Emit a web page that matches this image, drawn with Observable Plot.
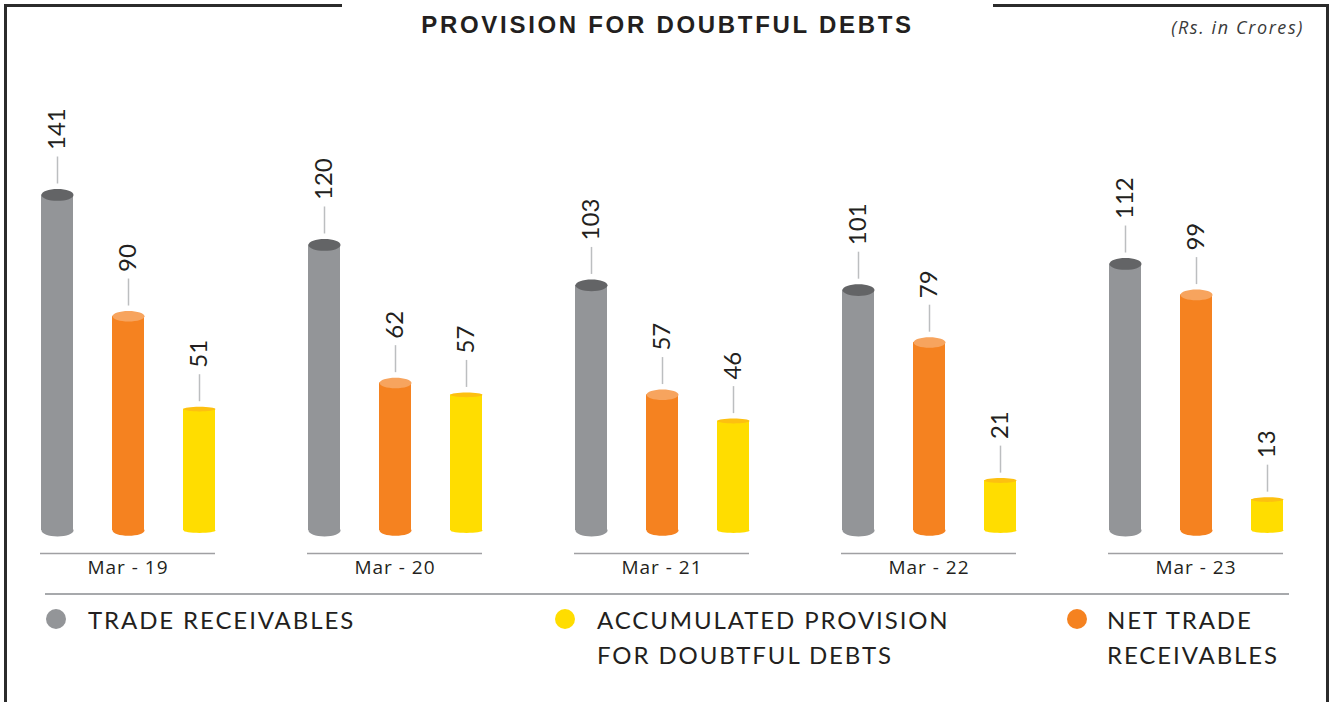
<!DOCTYPE html>
<html>
<head>
<meta charset="utf-8">
<script src="https://cdn.jsdelivr.net/npm/d3@7"></script>
<script src="https://cdn.jsdelivr.net/npm/@observablehq/plot@0.6"></script>
<style>
  html, body { margin: 0; padding: 0; background: #fff; }
  #wrap { position: relative; width: 1330px; height: 702px; overflow: hidden; background: #fff; }
  #chart { position: absolute; left: 0; top: 0; }
  #chart g[aria-label="fx-axis tick label"] text { letter-spacing: 1px; }
  .line { position: absolute; background: #2b2b2b; }
  #title { position: absolute; left: 342px; width: 651px; top: 11px; text-align: center;
           font-family: "Liberation Sans", Arial, sans-serif; font-weight: bold; font-size: 24px;
           letter-spacing: 2.7px; color: #231f20; }
  #unit { position: absolute; right: 26px; top: 15px; font-family: "Open Sans", sans-serif;
          font-style: italic; font-size: 18px; color: #3a3a3a; letter-spacing: 1.6px; }
  #sep { position: absolute; left: 45px; top: 593px; width: 1244px; height: 2px; background: #a7a9ac; }
  .leg { position: absolute; font-family: Lato, "Open Sans", sans-serif; font-size: 24px; line-height: 35px;
         letter-spacing: 1.9px; color: #231f20; }
  .dot { position: absolute; width: 20px; height: 20px; border-radius: 50%; }
</style>
</head>
<body>
<div id="wrap">
  <div id="chart"></div>
  <div class="line" style="left:4px;top:4px;width:338px;height:3px;"></div>
  <div class="line" style="left:993px;top:4px;width:336px;height:3px;"></div>
  <div class="line" style="left:4px;top:4px;width:3px;height:698px;"></div>
  <div class="line" style="left:1326px;top:4px;width:3px;height:698px;"></div>
  <div id="title">PROVISION FOR DOUBTFUL DEBTS</div>
  <div id="unit">(Rs. in Crores)</div>
  <div id="sep"></div>
  <div id="legend"></div>
</div>
<script>
// ---- data ----
const years = ["Mar - 19", "Mar - 20", "Mar - 21", "Mar - 22", "Mar - 23"];
const seriesNames = ["TRADE RECEIVABLES", "NET TRADE RECEIVABLES", "ACCUMULATED PROVISION FOR DOUBTFUL DEBTS"];
const tradeReceivables = [141, 120, 103, 101, 112];
const netTradeReceivables = [90, 62, 57, 79, 99];
const accumulatedProvision = [51, 57, 46, 21, 13];
const legendOrder = ["TRADE RECEIVABLES", "ACCUMULATED PROVISION FOR DOUBTFUL DEBTS", "NET TRADE RECEIVABLES"];
const legendLines = {
  "TRADE RECEIVABLES": ["TRADE RECEIVABLES"],
  "ACCUMULATED PROVISION FOR DOUBTFUL DEBTS": ["ACCUMULATED PROVISION", "FOR DOUBTFUL DEBTS"],
  "NET TRADE RECEIVABLES": ["NET TRADE", "RECEIVABLES"]
};

// ---- styles ----
const bodyColor = {
  "TRADE RECEIVABLES": "#939598",
  "NET TRADE RECEIVABLES": "#f58220",
  "ACCUMULATED PROVISION FOR DOUBTFUL DEBTS": "#ffdd00"
};
const topColor = {
  "TRADE RECEIVABLES": "#636466",
  "NET TRADE RECEIVABLES": "#f7a45e",
  "ACCUMULATED PROVISION FOR DOUBTFUL DEBTS": "#fdc010"
};
const ellipseRatio = {
  "TRADE RECEIVABLES": 0.37,
  "NET TRADE RECEIVABLES": 0.33,
  "ACCUMULATED PROVISION FOR DOUBTFUL DEBTS": 0.15
};

const rows = [];
years.forEach((y, i) => {
  rows.push({year: y, series: seriesNames[0], value: tradeReceivables[i]});
  rows.push({year: y, series: seriesNames[1], value: netTradeReceivables[i]});
  rows.push({year: y, series: seriesNames[2], value: accumulatedProvision[i]});
});

function ellipseSymbol(ratio) {
  return {
    draw(ctx, size) {
      const rx = Math.sqrt(size / Math.PI), ry = rx * ratio, k = 0.5523;
      ctx.moveTo(rx, 0);
      ctx.bezierCurveTo(rx, ry * k, rx * k, ry, 0, ry);
      ctx.bezierCurveTo(-rx * k, ry, -rx, ry * k, -rx, 0);
      ctx.bezierCurveTo(-rx, -ry * k, -rx * k, -ry, 0, -ry);
      ctx.bezierCurveTo(rx * k, -ry, rx, -ry * k, rx, 0);
      ctx.closePath();
    }
  };
}

const W = 1330, H = 600, mTop = 173, mBottom = 70, yMax = 150;
const pxPerUnit = (H - mTop - mBottom) / yMax;
const R = 16;
const lineLen = 27, gap = 5, textGap = 7;

const marks = [];
for (const s of seriesNames) {
  const d = rows.filter(r => r.series === s);
  const ry = R * ellipseRatio[s];
  marks.push(
    Plot.dot(d, {fx: "year", x: "series", y: 0, r: R, symbol: ellipseSymbol(ellipseRatio[s]), fill: bodyColor[s], stroke: null}),
    Plot.barY(d, {fx: "year", x: "series", y: "value", fill: bodyColor[s]}),
    Plot.dot(d, {fx: "year", x: "series", y: "value", r: R, symbol: ellipseSymbol(ellipseRatio[s]), fill: topColor[s], stroke: null}),
    Plot.ruleX(d, {fx: "year", x: "series", y1: "value", y2: r => r.value + lineLen / pxPerUnit,
      dy: -(ry + gap), stroke: "#bcbec0", strokeWidth: 1.5}),
    Plot.text(d, {fx: "year", x: "series", y: r => r.value + lineLen / pxPerUnit, text: r => String(r.value),
      rotate: -90, textAnchor: "start", dy: -(ry + gap + textGap), fontSize: 24, fontWeight: 400,
      fontFamily: "Lato", fill: "#231f20"})
  );
}
marks.push(
  Plot.ruleY([0], {dy: 23, stroke: "#a0a0a3", strokeWidth: 1.5}),
  Plot.axisFx({anchor: "bottom", tickSize: 0, tickPadding: 30, fontSize: 19, label: null,
    fontFamily: "Open Sans", fill: "#231f20"})
);

const chart = Plot.plot({
  width: W, height: H,
  marginTop: mTop, marginBottom: mBottom, marginLeft: 40, marginRight: 47,
  style: {background: "transparent", overflow: "visible", color: "#231f20"},
  fx: {domain: years, paddingInner: 0.345, paddingOuter: 0, label: null},
  x: {domain: seriesNames, paddingInner: 0.55, paddingOuter: 0, axis: null},
  y: {domain: [0, yMax], axis: null},
  marks
});
document.getElementById("chart").appendChild(chart);

// ---- legend ----
const legendX = {"TRADE RECEIVABLES": 46, "ACCUMULATED PROVISION FOR DOUBTFUL DEBTS": 555, "NET TRADE RECEIVABLES": 1067};
const textX = {"TRADE RECEIVABLES": 88, "ACCUMULATED PROVISION FOR DOUBTFUL DEBTS": 597, "NET TRADE RECEIVABLES": 1107};
const leg = document.getElementById("legend");
for (const s of legendOrder) {
  const dot = document.createElement("div");
  dot.className = "dot";
  dot.style.left = legendX[s] + "px";
  dot.style.top = "609px";
  dot.style.background = bodyColor[s];
  leg.appendChild(dot);
  const t = document.createElement("div");
  t.className = "leg";
  t.style.left = textX[s] + "px";
  t.style.top = "602px";
  t.innerHTML = legendLines[s].join("<br>");
  leg.appendChild(t);
}
</script>
</body>
</html>
